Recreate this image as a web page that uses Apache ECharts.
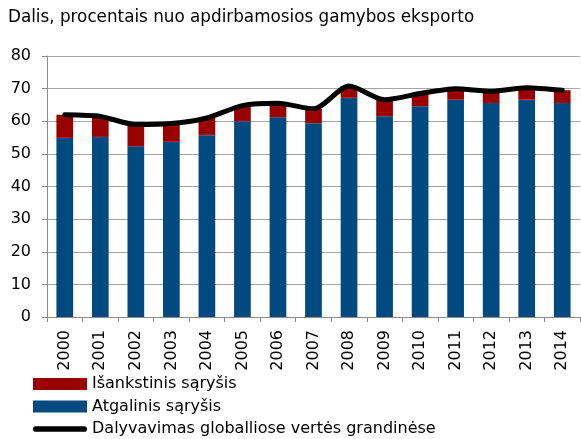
<!DOCTYPE html>
<html>
<head>
<meta charset="utf-8">
<script src="https://cdn.jsdelivr.net/npm/echarts@6/dist/echarts.min.js"></script>
<style>
  html, body { margin: 0; padding: 0; background: #fff; }
  #chart { width: 581px; height: 439px; }
</style>
</head>
<body>
<div id="chart"></div>
<script>
// metai
const years = ["2000", "2001", "2002", "2003", "2004", "2005", "2006", "2007",
  "2008", "2009", "2010", "2011", "2012", "2013", "2014"];
// atgalinis sarysis (apacia)
const backward = [54.9, 55.2, 52.3, 53.7, 55.7, 60.0, 61.2, 59.4, 67.2, 61.5, 64.6, 66.6, 65.6, 66.6, 65.6];
// isankstinis sarysis (virsus)
const forward = [7.1, 6.3, 6.7, 5.6, 5.3, 4.8, 4.3, 4.4, 3.6, 5.1, 3.9, 3.4, 3.6, 3.7, 3.9];
// dalyvavimas GVG
const participation = [62.0, 61.5, 59.0, 59.3, 61.0, 64.8, 65.5, 63.8, 70.8, 66.6, 68.5, 70.0, 69.2, 70.3, 69.5];

const font = "DejaVu Sans";
let myChart = echarts.init(document.getElementById("chart"));
let option = {
  animation: false,
  title: {
    text: "Dalis, procentais nuo apdirbamosios gamybos eksporto",
    left: 3,
    top: 4,
    textStyle: { fontFamily: font, fontSize: 16.8, fontWeight: "normal", color: "#000" }
  },
  legend: {
    orient: "vertical",
    left: 33,
    top: 376,
    padding: 0,
    height: 70,
    itemWidth: 54,
    itemHeight: 12,
    itemGap: 6.5,
    textStyle: { fontFamily: font, fontSize: 16, color: "#000" },
    data: [
      { name: "Išankstinis sąryšis", icon: "rect" },
      { name: "Atgalinis sąryšis", icon: "rect" },
      {
        name: "Dalyvavimas globalliose vertės grandinėse",
        icon: "path://M2.85,0 L51.15,0 A2.85,2.85 0 0 1 51.15,5.7 L2.85,5.7 A2.85,2.85 0 0 1 2.85,0 Z"
      }
    ]
  },
  grid: { left: 47, right: 1, top: 56, bottom: 122 },
  xAxis: {
    type: "category",
    data: years,
    axisLine: { lineStyle: { color: "#8c8c8c", width: 1 } },
    axisTick: { show: true, length: 5, lineStyle: { color: "#8c8c8c" } },
    axisLabel: { rotate: 90, margin: 13, fontFamily: font, fontSize: 16, color: "#000" }
  },
  yAxis: {
    type: "value",
    min: 0,
    max: 80,
    interval: 10,
    axisLine: { show: true, lineStyle: { color: "#8c8c8c", width: 1 } },
    axisTick: { show: true, length: 5, lineStyle: { color: "#8c8c8c" } },
    splitLine: { lineStyle: { color: "#a6a6a6", width: 1 } },
    axisLabel: { margin: 16, fontFamily: font, fontSize: 16, color: "#000" }
  },
  series: [
    {
      name: "Atgalinis sąryšis",
      type: "bar",
      stack: "gvg",
      barWidth: "47%",
      itemStyle: { color: "#004a80" },
      data: backward
    },
    {
      name: "Išankstinis sąryšis",
      type: "bar",
      stack: "gvg",
      itemStyle: { color: "#990000" },
      data: forward
    },
    {
      name: "Dalyvavimas globalliose vertės grandinėse",
      type: "line",
      symbol: "none",
      smooth: 0.25,
      lineStyle: { color: "#000", width: 5, cap: "round", join: "round" },
      itemStyle: { color: "#000" },
      data: participation
    }
  ]
};
myChart.setOption(option);
</script>
</body>
</html>
